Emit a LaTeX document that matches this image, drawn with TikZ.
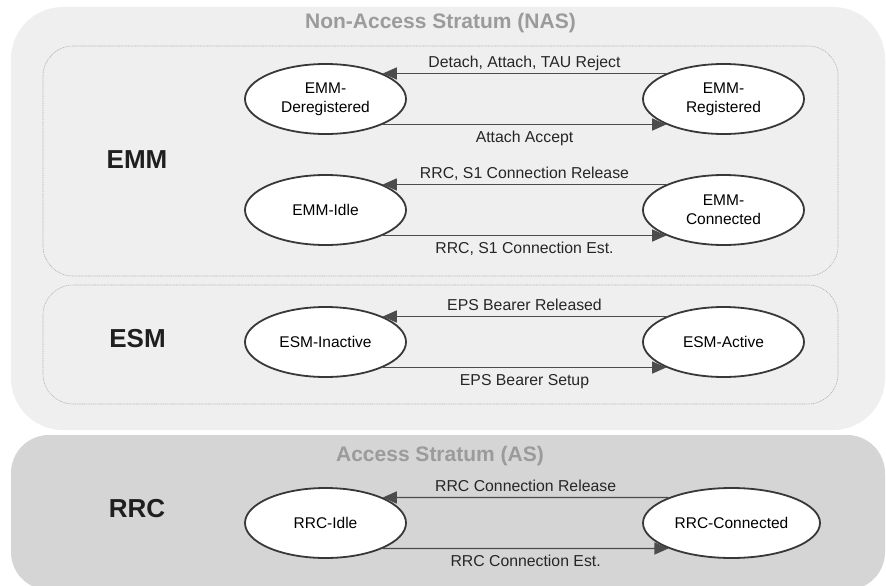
\documentclass[tikz,border=0pt]{standalone}
\usepackage{fontspec}
\setmainfont{Liberation Sans}
\usetikzlibrary{shapes.geometric,arrows.meta}
\pgfdeclarelayer{bg}
\pgfdeclarelayer{mid}
\pgfsetlayers{bg,mid,main}
\definecolor{nasfill}{RGB}{239,239,239}
\definecolor{asfill}{RGB}{213,213,213}
\definecolor{titlegray}{RGB}{155,155,155}
\definecolor{boxline}{RGB}{175,175,175}
\begin{document}
\begin{tikzpicture}[x=1pt,y=-1pt,
  state/.style={ellipse,draw=black!78,line width=1.8pt,fill=white,
    minimum width=161pt,minimum height=70pt,inner sep=0pt,align=center,
    font=\fontsize{15.5}{19}\selectfont},
  trans/.style={draw=black!70,line width=1.4pt,-{Triangle[length=14pt,width=12pt]}},
  lab/.style={anchor=base,font=\fontsize{15.8}{19}\selectfont,text=black!85,inner sep=0pt},
  labup/.style={lab,yshift=6pt},
  labdn/.style={lab,yshift=-18pt},
  layerlabel/.style={font=\bfseries\fontsize{26}{30}\selectfont,text=black!88},
  stratum/.style={font=\bfseries\fontsize{21}{25}\selectfont,text=titlegray},
  subbox/.style={draw=boxline,line width=0.6pt,dash pattern=on 1pt off 0.8pt,rounded corners=30pt}
]
\useasboundingbox (0,0) rectangle (886,586);
\begin{pgfonlayer}{bg}
  \fill[white] (0,0) rectangle (886,586);
  \fill[nasfill,rounded corners=52pt] (11,7) rectangle (885,430);
  \fill[asfill,rounded corners=38pt] (11,435) rectangle (885,590);
  \draw[subbox] (43,46) rectangle (838,276);
  \draw[subbox] (43,285) rectangle (838,404);
\end{pgfonlayer}

\node[stratum] (nas) at (440.5,23) {Non-Access Stratum (NAS)};
\node[stratum] (as) at (440,456) {Access Stratum (AS)};

\node[layerlabel] (emm) at (137,160) {EMM};
\node[layerlabel] (esm) at (137.5,339) {ESM};
\node[layerlabel] (rrc) at (137,509) {RRC};

\node[state] (dereg) at (325.5,99) {EMM-\\Deregistered};
\node[state] (reg) at (723.5,99) {EMM-\\Registered};
\node[state] (idle) at (325.5,210) {EMM-Idle};
\node[state] (conn) at (723.5,210) {EMM-\\Connected};
\node[state] (inact) at (325.5,342) {ESM-Inactive};
\node[state] (act) at (723.5,342) {ESM-Active};
\node[state] (rrcidle) at (325.5,523) {RRC-Idle};
\node[state,minimum width=177pt] (rrcconn) at (731.5,523) {RRC-Connected};

\begin{pgfonlayer}{mid}
  \draw[trans] (reg.156) -- node[labup] {Detach, Attach, TAU Reject} (dereg.24);
  \draw[trans] (dereg.-24) -- node[labdn] {Attach Accept} (reg.-156);
  \draw[trans] (conn.156) -- node[labup] {RRC, S1 Connection Release} (idle.24);
  \draw[trans] (idle.-24) -- node[labdn] {RRC, S1 Connection Est.} (conn.-156);
  \draw[trans] (act.156) -- node[labup] {EPS Bearer Released} (inact.24);
  \draw[trans] (inact.-24) -- node[labdn] {EPS Bearer Setup} (act.-156);
  \draw[trans] (rrcconn.158) -- node[labup] {RRC Connection Release} (rrcidle.24);
  \draw[trans] (rrcidle.-24) -- node[labdn] {RRC Connection Est.} (rrcconn.-158);
\end{pgfonlayer}
\end{tikzpicture}
\end{document}
